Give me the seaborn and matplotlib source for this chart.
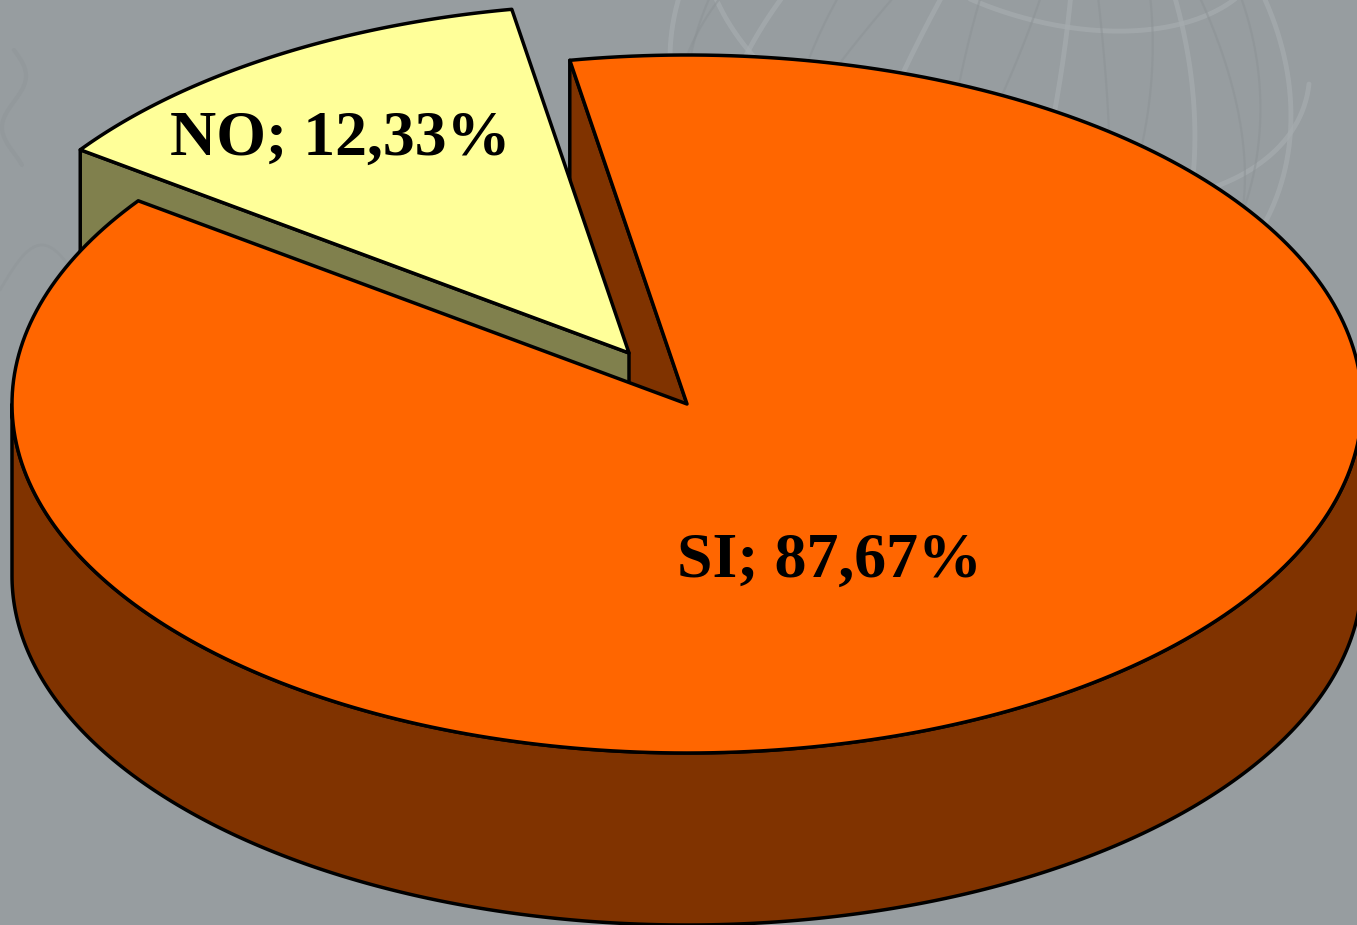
import numpy as np
import matplotlib.pyplot as plt
import seaborn as sns

# data
categories = ['SI', 'NO']
shares = [87.67, 12.33]
top_colors = ['#FF6600', '#FFFF99']
side_colors = ['#803300', '#80804D']

# pie geometry in pixels
cx, cy = 687, 404
rx, ry = 675, 349
depth = 172
start_angle = 100
explode_dx, explode_dy = -58, -51
bg = '#979DA0'

sns.set_theme(style='white')
plt.rcParams['font.family'] = ['Liberation Serif', 'DejaVu Serif']

fig = plt.figure(figsize=(13.57, 9.25), dpi=100, facecolor=bg)
ax = fig.add_axes([0, 0, 1, 1])
ax.set_facecolor(bg)
ax.set_xlim(0, 1357)
ax.set_ylim(925, 0)
ax.axis('off')


def arc(t1, t2, dx=0, dy=0):
    t = np.radians(np.linspace(t1, t2, 300))
    return cx + dx + rx * np.cos(t), cy + dy - ry * np.sin(t)


def globe_line(lat, lon, color, lw, alpha):
    # wireframe sphere, tilted towards the viewer and turned in the picture plane
    gx, gy, gr = 990, 60, 320
    tilt, spin = np.radians(35), np.radians(-18)
    la, lo = np.radians(lat), np.radians(lon)
    x = np.cos(la) * np.sin(lo)
    y = np.sin(la)
    z = np.cos(la) * np.cos(lo)
    y2 = y * np.cos(tilt) - z * np.sin(tilt)
    z2 = y * np.sin(tilt) + z * np.cos(tilt)
    x3 = x * np.cos(spin) - y2 * np.sin(spin)
    y3 = x * np.sin(spin) + y2 * np.cos(spin)
    x3 = np.where(z2 > 0, x3, np.nan)
    ax.plot(gx + gr * x3, gy - gr * y3, color=color, lw=lw, alpha=alpha, zorder=1)


# faint globe in the background
for lon in range(-80, 81, 32):
    globe_line(np.linspace(-80, 85, 200), np.full(200, lon), '#A6ACAF', 3.5, 0.7)
for lat in [-20, 12, 44]:
    globe_line(np.full(200, lat), np.linspace(-180, 180, 200), '#A6ACAF', 3.5, 0.7)
for lon in range(-64, 81, 32):
    globe_line(np.linspace(-80, 85, 200), np.full(200, lon) + np.linspace(-14, 14, 200), '#8C9295', 1.6, 0.5)
    globe_line(np.linspace(-80, 85, 200), np.full(200, lon) + np.linspace(14, -14, 200), '#8C9295', 1.6, 0.5)

# smudge at the left edge
sm = np.linspace(0, 1, 60)
ax.plot(14 + 12 * np.sin(sm * 7), 50 + 115 * sm, color='#8C9295', lw=3, alpha=0.35, zorder=1)
ax.plot(80 * sm, 290 - 45 * np.sin(sm * 3), color='#8C9295', lw=2, alpha=0.35, zorder=1)

# slice angles from the shares, clockwise
sweeps = [s / 100 * 360 for s in shares]
si_end = start_angle - sweeps[0]
no_end = si_end - sweeps[1]

edge = dict(edgecolor='black', linewidth=2.5, joinstyle='round')

# inner wall of SI seen through the gap
px, py = cx + rx * np.cos(np.radians(start_angle)), cy - ry * np.sin(np.radians(start_angle))
ax.fill([cx, px, px, cx], [cy, py, py + depth, cy + depth], color=side_colors[0], zorder=2, **edge)

# NO slice, pulled out
dx, dy = explode_dx, explode_dy
nx, ny = arc(si_end, no_end, dx, dy)
wall_x = [cx + dx, nx[0], nx[0], cx + dx]
wall_y = [cy + dy, ny[0], ny[0] + depth, cy + dy + depth]
ax.fill(wall_x, wall_y, color=side_colors[1], zorder=3, **edge)
ax.fill(np.r_[cx + dx, nx], np.r_[cy + dy, ny], color=top_colors[1], zorder=4, **edge)

# SI outer wall and top
fx, fy = arc(180, 360)
ax.fill(np.r_[fx, fx[::-1]], np.r_[fy, fy[::-1] + depth], color=side_colors[0], zorder=5, **edge)
sx, sy = arc(start_angle, si_end)
ax.fill(np.r_[cx, sx], np.r_[cy, sy], color=top_colors[0], zorder=6, **edge)

# labels
label_pos = [(829, 562), (340, 140)]
for cat, val, (lx, ly) in zip(categories, shares, label_pos):
    txt = f'{cat}; {val:.2f}%'.replace('.', ',')
    ax.text(lx, ly, txt, ha='center', va='center', fontsize=46, fontweight='bold',
            color='black', zorder=7)

fig.savefig('out.png', dpi=100, facecolor=bg)
